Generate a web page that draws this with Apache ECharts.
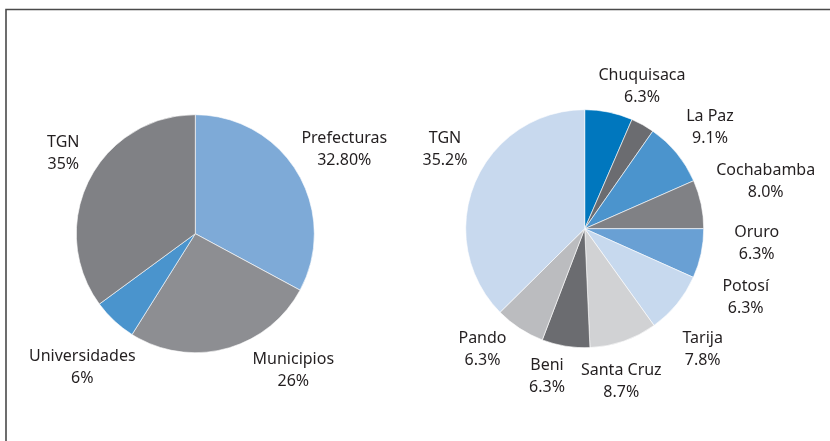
<!DOCTYPE html>
<html>
<head>
<meta charset="utf-8">
<script src="https://cdn.jsdelivr.net/npm/echarts@6/dist/echarts.min.js"></script>
<style>
html,body{margin:0;padding:0;background:#fff;}
#c{width:830px;height:441px;}
</style>
</head>
<body>
<div id="c"></div>
<script>
// ---- Left pie data ----
const leftNames  = ['Prefecturas', 'Municipios', 'Universidades', 'TGN'];
const leftValues = [32.8, 26, 6, 35];
const leftLabels = ['32.80%', '26%', '6%', '35%'];

// ---- Right pie data (slice sizes, printed labels as shown) ----
const rightNames  = ['Chuquisaca', '', 'La Paz', 'Cochabamba', 'Oruro', 'Potosí', 'Tarija', 'Santa Cruz', 'Beni', 'Pando', 'TGN'];
const rightValues = [6.5, 3.2, 8.7, 6.6, 6.7, 0, 8.4, 9.2, 6.5, 6.8, 37.4];
const rightLabels = ['6.3%', '', '9.1%', '8.0%', '6.3%', '6.3%', '7.8%', '8.7%', '6.3%', '6.3%', '35.2%'];

// ---- Styles / layout ----
const leftColors  = ['#7EAAD7', '#8D8E92', '#4A94CD', '#808185'];
const rightColors = ['#0077BE', '#6B6C70', '#4B94CD', '#808185', '#69A0D4', '#69A0D4', '#C7D9EE', '#D1D2D4', '#6B6C70', '#BBBCBF', '#C8D9EE'];
const LEFT_CENTER = [195.3, 233.7];
const RIGHT_CENTER = [584.7, 228.7];
const RADIUS = 119;
// label placement relative to each pie's centre
const leftLabelOffsets  = [[149, -84.5], [98, 136.5], [-113, 134], [-132, -80]];
const rightLabelOffsets = [[57.3, -142], [0, 0], [125.3, -101.2], [181, -47], [172, 14.3], [161, 68.8],
                           [118, 120.3], [36.6, 152.3], [-37.7, 147.6], [-102.2, 120.3], [-139.7, -79.2]];

function buildData(names, values, colors) {
  return names.map((n, i) => {
    const d = { name: n, value: values[i], itemStyle: { color: colors[i] } };
    if (!n) d.label = { show: false };
    if (values[i] === 0) d.itemStyle.borderWidth = 0;
    return d;
  });
}

function makeSeries(names, values, labels, colors, center, offsets) {
  return {
    type: 'pie',
    center: center,
    radius: RADIUS,
    startAngle: 90,
    clockwise: true,
    avoidLabelOverlap: false,
    silent: true,
    animation: false,
    data: buildData(names, values, colors),
    itemStyle: { borderColor: '#ffffff', borderWidth: 0.6 },
    label: {
      show: true,
      position: 'outside',
      formatter: p => p.name + '\n' + labels[p.dataIndex],
      fontFamily: 'Noto Sans',
      fontSize: 16,
      lineHeight: 22,
      color: '#231F20'
    },
    labelLine: { show: false },
    emphasis: { disabled: true },
    labelLayout: function (params) {
      const o = offsets[params.dataIndex];
      return { x: center[0] + o[0], y: center[1] + o[1], align: 'center', verticalAlign: 'middle' };
    }
  };
}

const chart = echarts.init(document.getElementById('c'), null, { renderer: 'canvas' });
chart.setOption({
  backgroundColor: '#ffffff',
  animation: false,
  graphic: [{
    type: 'polyline',
    silent: true,
    shape: { points: [[6, 441], [6, 9.5], [830, 9.5]] },
    style: { stroke: '#4a4a4a', lineWidth: 1.6, fill: null }
  }],
  series: [
    makeSeries(leftNames, leftValues, leftLabels, leftColors, LEFT_CENTER, leftLabelOffsets),
    makeSeries(rightNames, rightValues, rightLabels, rightColors, RIGHT_CENTER, rightLabelOffsets)
  ]
});
</script>
</body>
</html>
